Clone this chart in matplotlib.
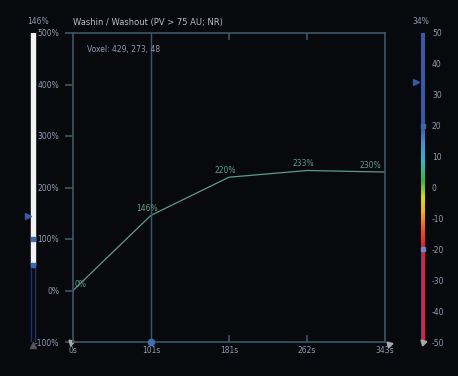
import numpy as np
import matplotlib
matplotlib.use('Agg')
import matplotlib.pyplot as plt
from matplotlib.colors import LinearSegmentedColormap

# data
time_labels = ['0s', '101s', '181s', '262s', '343s']
enhancement = [0, 146, 220, 233, 230]
point_labels = ['0%', '146%', '220%', '233%', '230%']
y_ticks = [500, 400, 300, 200, 100, 0, -100]
cbar_ticks = [50, 40, 30, 20, 10, 0, -10, -20, -30, -40, -50]
cursor_index = 1
cursor_value = 146
cbar_value = 34

bg = '#07090d'
spine = '#3b5666'
txt = '#8f9bb0'
line_c = '#5f9c84'
blue = '#3a57a8'

W, H = 458, 376
fig = plt.figure(figsize=(W / 100, H / 100), dpi=100, facecolor=bg)

def box(x0, y0, x1, y1):
    return [x0 / W, 1 - y1 / H, (x1 - x0) / W, (y1 - y0) / H]

# main plot
ax = fig.add_axes(box(73, 33, 385, 342))
ax.set_facecolor(bg)
x = np.arange(len(enhancement))
ax.plot(x, enhancement, color=line_c, lw=0.9)
for xi, yi, lab in zip(x, enhancement, point_labels):
    if xi == 0:
        ax.text(xi + 0.02, yi + 3, lab, color=line_c, fontsize=5.5, ha='left', va='bottom')
    else:
        ax.text(xi - 0.05, yi + 4, lab, color=line_c, fontsize=5.5,
                ha='right' if xi == len(x) - 1 else 'center', va='bottom')
ax.axvline(cursor_index, color=spine, lw=1)
ax.plot(cursor_index, -100, 'o', color='#3f6fb0', ms=4.5, clip_on=False, zorder=5)
ax.set_xlim(0, len(x) - 1)
ax.set_ylim(-100, 500)
ax.set_yticks(y_ticks)
ax.set_yticklabels([f'{v}%' for v in y_ticks])
ax.set_xticks(x)
ax.set_xticklabels(time_labels)
for s in ax.spines.values():
    s.set_color(spine)
    s.set_linewidth(1.2)
ax.tick_params(axis='y', colors=spine, labelcolor=txt, labelsize=5.5, length=6, width=1.2, pad=4)
ax.tick_params(axis='x', colors=spine, labelcolor=txt, labelsize=5.5, length=0, pad=3)
for xi in x[2:-1]:
    ax.plot([xi, xi], [-100, -88], color=spine, lw=1.2)
    ax.plot([xi, xi], [500, 488], color=spine, lw=1.2)
ax.text(0.045, 0.945, 'Voxel: 429, 273, 48', transform=ax.transAxes, color=txt, fontsize=5.5, va='center')
fig.text(73 / W, 1 - 22 / H, 'Washin / Washout (PV > 75 AU; NR)', color='#b8bcc6', fontsize=6, va='center')
ax.plot([-0.03], [-100], marker=(3, 0, 45), color='#aaaaaa', ms=5, clip_on=False)
ax.plot([len(x) - 1 + 0.05], [-103], marker=(3, 0, 45), color='#aaaaaa', ms=5, clip_on=False)

# left slider
axl = fig.add_axes(box(28, 33, 38, 342))
axl.set_xlim(0, 1)
axl.set_ylim(-100, 500)
axl.axis('off')
axl.add_patch(plt.Rectangle((0.3, 50), 0.4, 450, color='#f2f2f2'))
axl.add_patch(plt.Rectangle((0.3, -100), 0.4, 150, fill=False, ec='#25306a', lw=1))
axl.plot(0.5, 100, 's', color='#3a6aa8', ms=3.5)
axl.plot(0.5, 50, 's', color='#3a6aa8', ms=3.5)
axl.plot(-0.05, 145, '>', color=blue, ms=5, clip_on=False)
axl.plot(0.5, -106, '^', color='#555555', ms=5, clip_on=False)
fig.text(38 / W, 1 - 22 / H, f'{cursor_value}%', color=txt, fontsize=5.5, ha='center', va='center')

# right colorbar
axc = fig.add_axes(box(421, 33, 425, 342))
cmap = LinearSegmentedColormap.from_list('ramp', [
    (0.0, '#e8202a'), (0.31, '#e8202a'), (0.37, '#f05a20'), (0.42, '#f0b020'),
    (0.47, '#d8d820'), (0.52, '#40b040'), (0.58, '#30b8c0'), (0.64, '#4a90d8'),
    (0.7, blue), (1.0, blue)])
grad = np.linspace(-50, 50, 256).reshape(-1, 1)
axc.imshow(grad, aspect='auto', cmap=cmap, origin='lower', extent=[0, 1, -50, 50])
axc.add_patch(plt.Rectangle((0, -50), 1, 30, fill=False, ec=blue, lw=0.8))
axc.set_xlim(0, 1)
axc.set_ylim(-50, 50)
axc.set_xticks([])
axc.yaxis.tick_right()
axc.set_yticks(cbar_ticks)
axc.set_yticklabels([str(v) for v in cbar_ticks])
axc.tick_params(axis='y', length=0, labelcolor=txt, labelsize=5.5, pad=5)
for s in axc.spines.values():
    s.set_visible(False)
axc.plot(0.5, 20, 's', color='#3a6aa8', ms=3.5, clip_on=False)
axc.plot(0.5, -20, 's', color='#6a8ac8', ms=3.5, clip_on=False)
axc.plot(-1.2, cbar_value, '>', color=blue, ms=5, clip_on=False)
axc.plot(0.5, -50, marker=(3, 0, 45), color='#aaaaaa', ms=5, clip_on=False)
fig.text(421 / W, 1 - 22 / H, f'{cbar_value}%', color=txt, fontsize=5.5, ha='center', va='center')

fig.savefig('out.png', dpi=100, facecolor=bg)
